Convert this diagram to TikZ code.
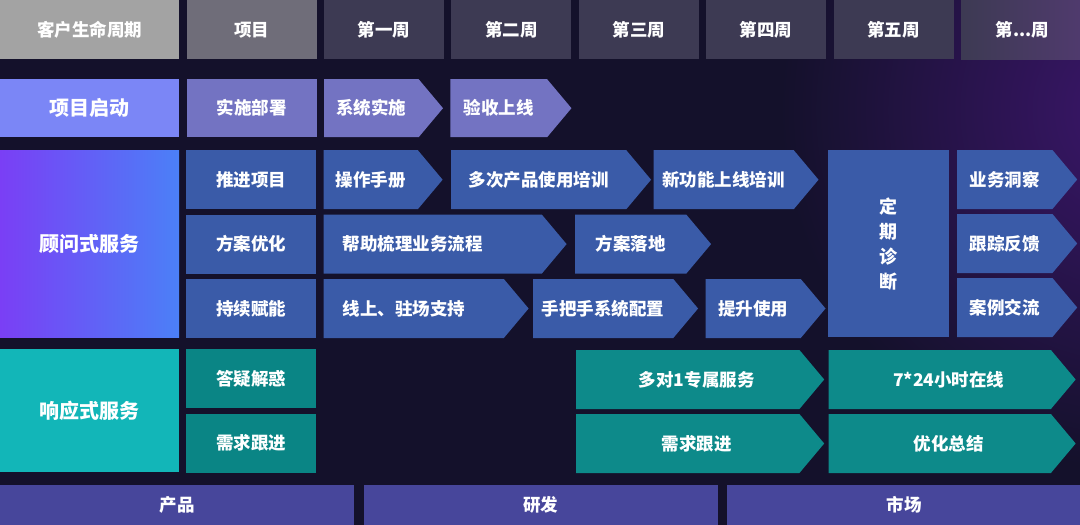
\documentclass[tikz,border=0pt]{standalone}
\usepackage{fontspec}
\setmainfont{Noto Sans CJK SC}
\usepackage{xcolor}
\usepackage{tikz}
\usetikzlibrary{shapes,positioning,backgrounds}
\definecolor{bgnavy}{RGB}{20,17,43}
\definecolor{glowpurple}{RGB}{60,22,108}
\definecolor{hdrlight}{RGB}{163,163,163}
\definecolor{hdrmid}{RGB}{111,109,121}
\definecolor{hdrdark}{RGB}{61,58,83}
\definecolor{hdrtint}{RGB}{80,58,110}
\definecolor{kickblue}{RGB}{123,134,246}
\definecolor{kicksub}{RGB}{115,115,194}
\definecolor{consultL}{RGB}{122,63,245}
\definecolor{consultR}{RGB}{75,128,247}
\definecolor{advblue}{RGB}{58,91,168}
\definecolor{tealbright}{RGB}{18,182,184}
\definecolor{tealdark}{RGB}{10,133,133}
\definecolor{tealarrow}{RGB}{13,138,138}
\definecolor{barpurple}{RGB}{71,70,155}

\begin{document}
\begin{tikzpicture}[
    x=1pt, y=-1pt,
    box/.style={rectangle, inner sep=0pt, align=center, text=white, font=\fontsize{17.5}{20}\selectfont\bfseries},
    head/.style={box, minimum height=59pt},
    cell/.style={box, minimum width=130pt, minimum height=59pt},
    big/.style={box, minimum width=179pt, font=\fontsize{20}{24}\selectfont\bfseries},
    chev/.style={box, shape=signal, signal to=east, signal pointer angle=100, inner xsep=4pt, minimum height=59pt},
    lchev/.style={chev, align=left, inner xsep=19pt, text width=#1},
    tchev/.style={chev, fill=tealarrow, execute at begin node=\hspace*{18pt}},
    bar/.style={box, fill=barpurple, minimum width=354pt, minimum height=40pt}
]
\useasboundingbox (0,0) rectangle (1080,525);

% Background
\begin{scope}[on background layer]
    \fill[bgnavy] (0,0) rectangle (1080,525);
    \clip (0,0) rectangle (1080,525);
    \shade[inner color=glowpurple, outer color=bgnavy] (1140,110) circle [radius=360pt];
\end{scope}

% Header
\node[head, fill=hdrlight, minimum width=179pt, anchor=north west] (life) at (0,0) {客户生命周期};
\node[head, fill=hdrmid, minimum width=130pt, right=7pt of life] (proj) {项目};
\node[head, fill=hdrdark, minimum width=120pt, right=7pt of proj] (wk1) {第一周};
\node[head, fill=hdrdark, minimum width=120pt, right=7pt of wk1] (wk2) {第二周};
\node[head, fill=hdrdark, minimum width=120pt, right=7pt of wk2] (wk3) {第三周};
\node[head, fill=hdrdark, minimum width=120pt, right=7pt of wk3] (wk4) {第四周};
\node[head, fill=hdrdark, minimum width=120pt, right=7pt of wk4] (wk5) {第五周};
\node[head, left color=hdrdark, right color=hdrtint, minimum width=123pt, right=7pt of wk5] (wk6) {第...周};

% Kickoff
\node[big, fill=kickblue, minimum height=58pt, anchor=north west] (kickoff) at (0,79) {项目启动};
\node[cell, fill=kicksub, minimum height=58pt, right=7pt of kickoff] (deploy) {实施部署};
\node[chev, fill=kicksub, minimum height=58pt, minimum width=119pt, right=7pt of deploy] (sysimpl) {系统实施};
\node[chev, fill=kicksub, minimum height=58pt, minimum width=121pt, right=7pt of sysimpl] (golive) {验收上线};

% Consulting service
\node[big, left color=consultL, right color=consultR, minimum height=187pt, anchor=north west] (consult) at (0,150) {顾问式服务};
\node[cell, fill=advblue, anchor=north west] (push) at (186,150) {推进项目};
\node[cell, fill=advblue, below=5pt of push] (optim) {方案优化};
\node[cell, fill=advblue, below=5pt of optim] (enable) {持续赋能};

\node[chev, fill=advblue, minimum width=119pt, right=7pt of push] (manual) {操作手册};
\node[chev, fill=advblue, minimum width=200pt, right=8pt of manual] (training) {多次产品使用培训};
\node[chev, fill=advblue, minimum width=165pt, right=2pt of training] (newfeat) {新功能上线培训};
\node[lchev=180pt, fill=advblue, minimum width=243pt, right=7pt of optim] (sorting) {帮助梳理业务流程};
\node[chev, fill=advblue, minimum width=136pt, right=8pt of sorting] (landing) {方案落地};
\node[lchev=142pt, fill=advblue, minimum width=205pt, right=7pt of enable] (online) {线上、驻场支持};
\node[chev, fill=advblue, minimum width=165pt, right=4pt of online] (config) {手把手系统配置};
\node[chev, fill=advblue, minimum width=120pt, right=7pt of config] (improve) {提升使用};

\node[box, fill=advblue, minimum width=121pt, minimum height=187pt, font=\fontsize{18}{25}\selectfont\bfseries, anchor=north west] (diag) at (828,150) {定\\期\\诊\\断};
\node[chev, fill=advblue, minimum width=120pt, anchor=west] (insight) at (957,179.5) {业务洞察};
\node[chev, fill=advblue, minimum width=120pt, anchor=west] (track) at (957,243.5) {跟踪反馈};
\node[chev, fill=advblue, minimum width=120pt, anchor=west] (cases) at (957,307.5) {案例交流};

% Responsive service
\node[big, fill=tealbright, minimum height=123pt, anchor=north west] (respond) at (0,349) {响应式服务};
\node[cell, fill=tealdark, anchor=north west] (qa) at (186,349) {答疑解惑};
\node[cell, fill=tealdark, below=5pt of qa] (req) {需求跟进};

\node[tchev, minimum width=248pt, anchor=west] (dedicated) at (576,379.5) {多对1专属服务};
\node[tchev, minimum width=248pt, anchor=west] (reqtwo) at (576,443.5) {需求跟进};
\node[tchev, minimum width=247pt, right=4pt of dedicated] (allday) {7*24小时在线};
\node[tchev, minimum width=247pt, right=4pt of reqtwo] (summary) {优化总结};

% Bottom bars
\node[bar, anchor=north west] (product) at (0,485) {产品};
\node[bar, right=9pt of product] (rnd) {研发};
\node[bar, right=9pt of rnd] (market) {市场};

\end{tikzpicture}
\end{document}
